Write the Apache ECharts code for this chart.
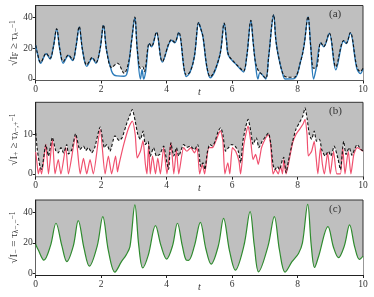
<!DOCTYPE html>
<html>
<head>
<meta charset="utf-8">
<script src="https://cdn.jsdelivr.net/npm/echarts@6/dist/echarts.min.js"></script>
<style>html,body{margin:0;padding:0;background:#fff}#c{width:374px;height:297px}</style>
</head>
<body>
<div id="c"></div>
<script>
// ---- data ----
var xTicks = [0, 2, 4, 6, 8, 10];
var yTicksA = [0, 20, 40];
var yTicksB = [0, 10];
var yTicksC = [0, 20, 40];
var panelLabels = ['(a)', '(b)', '(c)'];

var blackA = [[0,22],[0.05,17],[0.15,10.7],[0.32,16.8],[0.44,13.5],[0.54,21],[0.64,32.8],[0.74,19],[0.84,11.4],[1.0,15.7],[1.13,12.5],[1.23,21],[1.33,34.3],[1.43,19],[1.56,9.2],[1.73,14],[1.84,10.7],[1.97,20],[2.07,35.4],[2.17,18],[2.32,7.4],[2.5,10.3],[2.7,3.7],[2.85,12],[2.93,25],[3.03,40.4],[3.1,20],[3.2,7],[3.27,8],[3.32,4.8],[3.47,23.4],[3.54,21.2],[3.69,30.6],[3.87,11.4],[4.15,25.6],[4.25,24],[4.37,30.6],[4.6,2.6],[4.72,4.8],[4.85,15],[4.98,37],[5.04,33],[5.11,27.8],[5.23,8],[5.33,1.5],[5.62,15],[5.76,36.5],[5.83,25],[5.89,15.7],[6.1,10.3],[6.25,7],[6.35,5.2],[6.45,15],[6.575,38.3],[6.64,25],[6.71,11.4],[6.8,5.5],[6.9,3.3],[7.03,0.4],[7.12,15],[7.27,42],[7.34,25],[7.42,14.6],[7.57,2.6],[7.7,1.1],[7.9,1.1],[8.1,12],[8.2,22],[8.32,40.9],[8.4,22],[8.49,7],[8.59,8],[8.71,23.8],[8.8,21.2],[8.97,30],[9.17,8],[9.41,25.1],[9.49,23.4],[9.61,30.4],[9.81,8],[9.92,4.8],[10,7]];

var blueA = [[0,22],[0.05,17],[0.15,10.2],[0.32,16.5],[0.44,13],[0.54,21],[0.64,32.5],[0.74,19],[0.84,10.3],[1.0,15.3],[1.13,12],[1.23,21],[1.33,34],[1.43,19],[1.56,8.2],[1.73,13.5],[1.84,10.2],[1.97,20],[2.07,35],[2.17,18],[2.32,5],[2.4,2.5],[2.5,2],[2.7,1.8],[2.78,3],[2.85,11],[2.93,25],[3.03,40],[3.1,20],[3.2,0],[3.25,6],[3.3,0],[3.36,5],[3.47,23],[3.54,21],[3.69,30.3],[3.87,11],[4.15,25.3],[4.25,23.6],[4.37,30.3],[4.6,1.5],[4.72,4.5],[4.85,15],[4.98,36.8],[5.04,33],[5.11,27.5],[5.23,7.5],[5.33,0.8],[5.62,15],[5.76,36.3],[5.83,25],[5.89,15.3],[6.1,10],[6.25,6.5],[6.35,4.5],[6.45,15],[6.575,38],[6.64,25],[6.71,11],[6.79,0],[6.85,4],[6.95,2],[7.03,0],[7.12,15],[7.27,41.8],[7.34,25],[7.42,14.3],[7.57,1.5],[7.62,0],[7.9,0.2],[8.1,12],[8.2,22],[8.32,40.7],[8.4,22],[8.49,0],[8.56,6],[8.71,23.5],[8.8,21],[8.97,29.8],[9.17,6],[9.41,24.8],[9.49,23.1],[9.61,30.1],[9.81,7],[9.92,3.5],[10,6.5]];

var blackB = [[0,10.3],[0.05,6],[0.13,1.9],[0.18,1.1],[0.31,7.4],[0.39,4.5],[0.51,9.2],[0.61,5.9],[0.69,5.3],[0.77,6.6],[0.85,5.3],[0.95,7.4],[1.0,5.0],[1.1,6],[1.22,10.1],[1.35,6.1],[1.46,7.0],[1.53,5.9],[1.61,6.6],[1.71,5.3],[1.8,6.5],[1.97,11.8],[2.1,6.6],[2.17,7.4],[2.27,5.7],[2.42,9.6],[2.55,8.4],[2.64,9.1],[2.79,12.9],[2.89,15],[2.95,16.2],[3.04,13.3],[3.12,9.9],[3.2,8.7],[3.28,10.8],[3.35,7.4],[3.43,8.2],[3.5,4.4],[3.6,6.6],[3.69,4.5],[3.79,4.9],[3.91,7.0],[4.01,2.8],[4.06,1.1],[4.13,7.8],[4.22,4.5],[4.3,6.6],[4.37,4.5],[4.52,7.4],[4.62,6.7],[4.72,7.0],[4.85,6.1],[4.95,7.4],[5.04,1.9],[5.11,2.8],[5.17,1.1],[5.24,5.3],[5.32,7.4],[5.4,7.0],[5.48,8.2],[5.58,10.8],[5.65,11.6],[5.72,9.9],[5.8,5.7],[5.89,6.6],[5.99,7.4],[6.09,7.0],[6.19,5.7],[6.26,2.8],[6.33,8.2],[6.41,11.6],[6.49,13.7],[6.57,10.8],[6.64,7.4],[6.74,9.1],[6.82,6.6],[6.92,8.2],[7.03,9.5],[7.11,10.3],[7.18,7.8],[7.25,2.4],[7.31,1.1],[7.38,1.9],[7.45,1.1],[7.54,3.6],[7.58,4.2],[7.65,0.3],[7.72,3.2],[7.85,8.2],[7.95,11.2],[8.06,12.9],[8.16,14.5],[8.23,16.6],[8.29,14.1],[8.36,9.9],[8.43,8.7],[8.51,10.8],[8.58,8.2],[8.67,8.7],[8.74,6.1],[8.84,4.5],[8.94,5.7],[9.02,4.5],[9.12,7.0],[9.23,4.0],[9.31,1.1],[9.41,8.2],[9.48,4.9],[9.58,6.6],[9.66,4.7],[9.74,6.1],[9.82,7.4],[9.94,6.1],[10,5.8]];

var redB = [[0,5.5],[0.03,3.5],[0.08,0],[0.13,1.5],[0.18,0],[0.31,7.4],[0.39,0],[0.51,8.7],[0.59,0],[0.69,3.6],[0.77,0],[0.92,6.7],[1.0,0],[1.22,9.5],[1.36,0],[1.46,3.9],[1.56,0],[1.66,3.6],[1.76,0],[1.97,11.2],[2.12,0],[2.22,4.5],[2.32,0],[2.44,4.5],[2.5,0.5],[2.53,1.8],[2.69,7.4],[2.84,11.6],[2.95,13.3],[3.04,9.9],[3.1,4.0],[3.2,5.7],[3.28,8.4],[3.35,2.5],[3.4,0],[3.45,7.4],[3.5,0],[3.57,4.5],[3.66,0],[3.73,4.0],[3.81,0],[3.91,6.6],[4.01,0],[4.13,7.8],[4.22,0],[4.3,6.1],[4.37,0],[4.52,6.6],[4.62,5.7],[4.74,6.6],[4.85,5.3],[4.93,6.6],[5.01,0],[5.09,2.4],[5.16,0],[5.29,6.6],[5.4,6.6],[5.5,8.2],[5.6,10.3],[5.65,10.8],[5.72,8.2],[5.78,0],[5.87,2.8],[5.93,0],[6.01,6.6],[6.11,5.7],[6.21,3.2],[6.26,0],[6.36,7.4],[6.49,12.0],[6.57,8.2],[6.64,3.6],[6.72,4.9],[6.8,2.4],[6.9,6.6],[7.03,9.1],[7.11,9.9],[7.18,7.2],[7.25,0],[7.33,1.1],[7.41,0],[7.48,1.9],[7.54,0],[7.58,3.6],[7.65,0],[7.72,2.4],[7.85,7.8],[7.95,9.9],[8.06,11.2],[8.16,12.4],[8.23,13.7],[8.29,9.9],[8.33,4.5],[8.43,5.7],[8.51,8.2],[8.62,0],[8.7,6.6],[8.76,2.4],[8.82,0],[8.92,5.3],[9.0,0],[9.1,5.7],[9.2,0],[9.31,0],[9.38,6.6],[9.45,0],[9.55,5.7],[9.63,0],[9.72,4.9],[9.82,6.6],[9.94,6.1],[10,5.7]];

var greenC = [[0,19],[0.08,15.3],[0.25,8.7],[0.45,18],[0.62,32.8],[0.8,18],[0.95,7.7],[1.15,18],[1.3,34.5],[1.48,16],[1.64,4.8],[1.88,18],[2.05,37.2],[2.22,15],[2.42,0.9],[2.62,7.7],[2.76,12],[2.88,17.5],[3.03,44.8],[3.15,18],[3.27,3.7],[3.44,12],[3.66,31.3],[3.83,18],[4.0,9.4],[4.18,18],[4.33,32.8],[4.48,18],[4.6,8.7],[4.67,8.5],[4.85,18],[5.03,33.4],[5.2,16],[5.36,6.1],[5.58,18],[5.74,36],[5.92,15],[6.1,2.2],[6.36,18],[6.55,40.4],[6.68,18],[6.81,1.1],[7.1,18],[7.29,37.2],[7.45,15],[7.62,0.9],[7.83,7.7],[8.03,13.1],[8.15,20],[8.31,45.2],[8.42,18],[8.52,3.9],[8.64,10.9],[8.93,30.6],[9.1,17],[9.25,10.3],[9.43,18],[9.59,31.7],[9.75,17],[9.89,9.2],[10,11.4]];

// ---- chart ----
var FONT = 'Liberation Serif, DejaVu Serif, serif';
var chart = echarts.init(document.getElementById('c'), null, {renderer: 'canvas'});

var grids = [
  {left: 35.7, right: 11, top: 5.5, height: 75},
  {left: 35.7, right: 11, top: 102.3, height: 74.4},
  {left: 35.7, right: 11, top: 200, height: 75}
];
grids.forEach(function (g) {
  g.show = true; g.backgroundColor = '#bfbfbf'; g.borderColor = '#333'; g.borderWidth = 1;
  g.containLabel = false; g.outerBoundsMode = 'none';
});

function xAx(i) {
  return {
    type: 'value', gridIndex: i, min: 0, max: 10, interval: 2,
    axisLine: {onZero: false, lineStyle: {color: '#222', width: 1}},
    axisTick: {length: 3, lineStyle: {color: '#222'}},
    splitLine: {show: false},
    axisLabel: {fontFamily: FONT, fontSize: 9.5, color: '#333', margin: 4,
      customValues: xTicks},
    name: 't', nameLocation: 'middle', nameGap: 7, nameMoveOverlap: false,
    nameTextStyle: {fontFamily: FONT, fontStyle: 'italic', fontSize: 10, color: '#333'}
  };
}
var rich = {
  m: {fontFamily: FONT, fontSize: 11, color: '#333', lineHeight: 11},
  sb: {fontFamily: FONT, fontSize: 7.5, color: '#333', verticalAlign: 'bottom', lineHeight: 11},
  sp: {fontFamily: FONT, fontSize: 7.5, color: '#333', verticalAlign: 'top', lineHeight: 11}
};
function yAx(i, min, max, ticks, name) {
  return {
    type: 'value', gridIndex: i, min: min, max: max,
    axisLine: {show: true, onZero: false, lineStyle: {color: '#222', width: 1}},
    axisTick: {show: true, length: 3, lineStyle: {color: '#222'}, customValues: ticks},
    splitLine: {show: false},
    axisLabel: {fontFamily: FONT, fontSize: 9.5, color: '#333', margin: 3, customValues: ticks},
    name: name, nameLocation: 'middle', nameRotate: 90, nameGap: 16, nameMoveOverlap: false,
    nameTextStyle: {rich: rich}
  };
}

var nameA = '{m|√I}{sb|F}{m| ≥ τ}{sb|λ−}{sp|−1}';
var nameB = '{m|√I}{sb|+}{m| ≥ τ}{sb|λ−,+}{sp|−1}';
var nameC = '{m|√I}{sb|−}{m| = τ}{sb|λ−,−}{sp|−1}';

function fillSeries(i, data, smooth) {
  return {type: 'line', xAxisIndex: i, yAxisIndex: i, data: data, smooth: smooth,
    symbol: 'none', z: 1, lineStyle: {width: 0, opacity: 0},
    areaStyle: {color: '#ffffff', opacity: 1, origin: 'start'}, silent: true};
}
function lineSeries(i, data, smooth, color, width, type, z) {
  return {type: 'line', xAxisIndex: i, yAxisIndex: i, data: data, smooth: smooth,
    symbol: 'none', z: z, lineStyle: {color: color, width: width, type: type}, silent: true};
}

var option = {
  animation: false,
  grid: grids,
  xAxis: [xAx(0), xAx(1), xAx(2)],
  yAxis: [yAx(0, -1, 48, yTicksA, nameA), yAx(1, -0.7, 18, yTicksB, nameB), yAx(2, -1, 48, yTicksC, nameC)],
  series: [
    fillSeries(0, blackA, 0.35),
    lineSeries(0, blueA, 0.35, '#2b7bba', 1.4, 'solid', 2),
    lineSeries(0, blackA, 0.35, '#111', 1.1, [3, 2], 3),
    fillSeries(1, blackB, 0.2),
    lineSeries(1, redB, 0.2, '#f0506e', 1.2, 'solid', 2),
    lineSeries(1, blackB, 0.2, '#111', 1.1, [3, 2], 3),
    fillSeries(2, greenC, 0.35),
    lineSeries(2, greenC, 0.35, '#2e8b2e', 1.2, 'solid', 3)
  ],
  graphic: [
    {type: 'text', left: 329, top: 9, style: {text: panelLabels[0], font: '11px ' + FONT, fill: '#333'}, z: 100},
    {type: 'text', left: 329, top: 106, style: {text: panelLabels[1], font: '11px ' + FONT, fill: '#333'}, z: 100},
    {type: 'text', left: 329, top: 204, style: {text: panelLabels[2], font: '11px ' + FONT, fill: '#333'}, z: 100}
  ]
};
chart.setOption(option);
</script>
</body>
</html>
